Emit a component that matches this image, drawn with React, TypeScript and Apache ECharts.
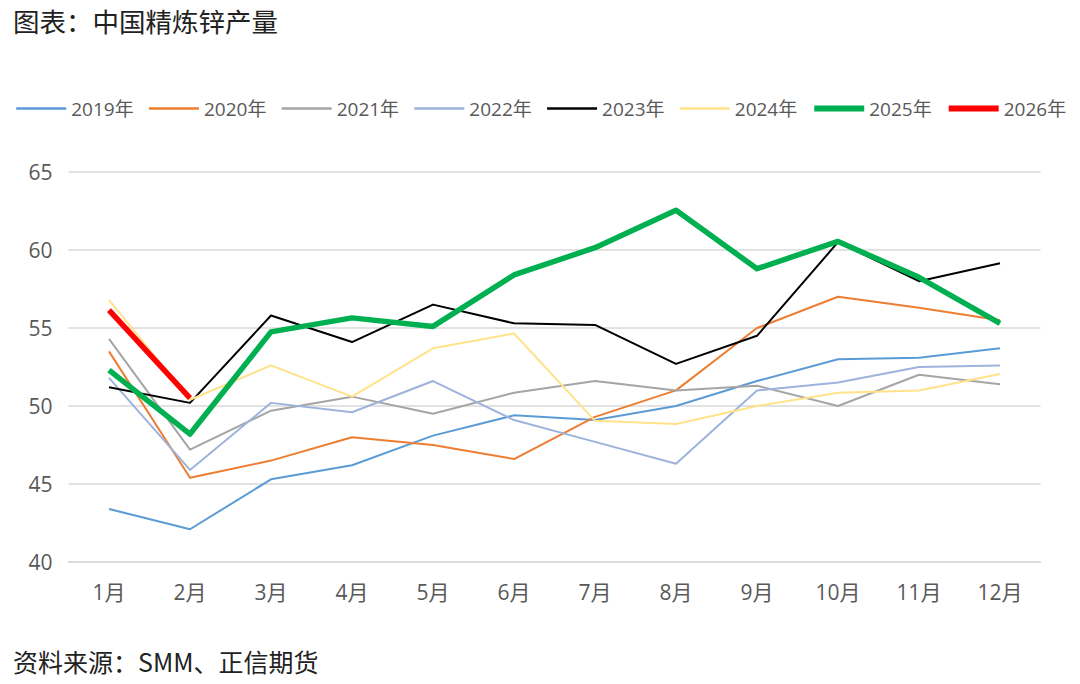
import React, { useEffect, useRef } from "react";
import * as echarts from "echarts";

const months = ["1月", "2月", "3月", "4月", "5月", "6月", "7月", "8月", "9月", "10月", "11月", "12月"];
const yearNames = ["2019年", "2020年", "2021年", "2022年", "2023年", "2024年", "2025年", "2026年"];

const y2019 = [43.4, 42.1, 45.3, 46.2, 48.1, 49.4, 49.1, 50.0, 51.6, 53.0, 53.1, 53.7];
const y2020 = [53.5, 45.4, 46.5, 48.0, 47.5, 46.6, 49.3, 51.0, 55.0, 57.0, 56.3, 55.5];
const y2021 = [54.3, 47.2, 49.7, 50.6, 49.5, 50.85, 51.6, 51.0, 51.3, 50.0, 52.0, 51.4];
const y2022 = [51.8, 45.9, 50.2, 49.6, 51.6, 49.1, 47.7, 46.3, 51.0, 51.5, 52.5, 52.6];
const y2023 = [51.2, 50.2, 55.8, 54.1, 56.5, 55.3, 55.2, 52.7, 54.5, 60.5, 58.0, 59.15];
const y2024 = [56.8, 50.4, 52.6, 50.6, 53.7, 54.65, 49.05, 48.85, 50.0, 50.85, 51.0, 52.05];
const y2025 = [52.3, 48.2, 54.75, 55.65, 55.1, 58.4, 60.15, 62.55, 58.8, 60.55, 58.25, 55.3];
const y2026 = [56.15, 50.5];

const yearData = [y2019, y2020, y2021, y2022, y2023, y2024, y2025, y2026];
const colors = ["#5B9BD5", "#ED7D31", "#A5A5A5", "#9DB3DB", "#000000", "#FFE28A", "#00B050", "#FF0000"];
const widths = [2, 2, 2, 2, 2, 2, 5.5, 5.5];

export default function App() {
  const ref = useRef<HTMLDivElement>(null);
  useEffect(() => {
    if (!ref.current) return;
    const chart = echarts.init(ref.current, undefined, { renderer: "svg" });
    const font = "'Open Sans', 'Noto Sans CJK SC', sans-serif";
    chart.setOption({
      animation: false,
      backgroundColor: "#ffffff",
      title: [
        {
          text: "图表：中国精炼锌产量",
          left: 8,
          top: 2,
          textStyle: { fontSize: 26.5, fontWeight: "normal", color: "#222", fontFamily: "'Noto Sans CJK SC', sans-serif" },
        },
        {
          text: "资料来源：SMM、正信期货",
          left: 8,
          top: 643,
          textStyle: { fontSize: 25, fontWeight: "normal", color: "#222", fontFamily: "'Noto Sans CJK SC', sans-serif" },
        },
      ],
      legend: {
        left: 10,
        top: 94,
        width: 1075,
        itemWidth: 50,
        itemHeight: 24,
        itemGap: 14,
        itemStyle: { opacity: 0 },
        textStyle: { fontSize: 19, color: "#595959", fontFamily: font },
        data: yearNames.map((n, i) => ({
          name: n,
          lineStyle: { width: widths[i] > 3 ? 6 : 2.5, color: colors[i] },
        })),
      },
      grid: { left: 68.5, right: 39.5, top: 172, bottom: 122, containLabel: false },
      xAxis: {
        type: "category",
        data: months,
        boundaryGap: true,
        axisLine: { show: true, lineStyle: { color: "#D9D9D9", width: 1.5 } },
        axisTick: { show: false },
        axisLabel: { fontSize: 21, color: "#595959", margin: 19, fontFamily: font },
      },
      yAxis: {
        type: "value",
        min: 40,
        max: 65,
        interval: 5,
        axisLine: { show: false },
        axisTick: { show: false },
        splitLine: { lineStyle: { color: "#D9D9D9", width: 1.5 } },
        axisLabel: { fontSize: 21, color: "#595959", margin: 16, fontFamily: font },
      },
      series: yearNames.map((n, i) => ({
        name: n,
        type: "line",
        data: yearData[i],
        symbol: "none",
        z: i >= 6 ? 10 + i : 2,
        lineStyle: { color: colors[i], width: widths[i], join: "round" },
        itemStyle: { color: colors[i] },
      })),
    });
    return () => chart.dispose();
  }, []);
  return <div ref={ref} style={{ width: 1080, height: 684, position: "absolute", left: 0, top: 0 }} />;
}
